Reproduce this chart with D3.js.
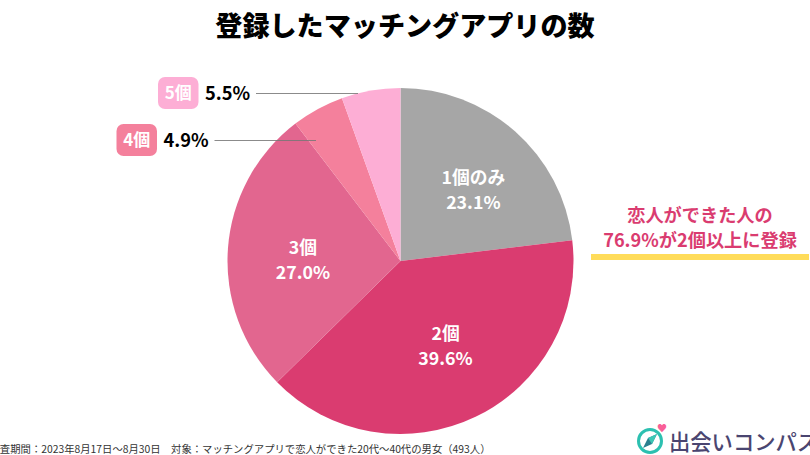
<!DOCTYPE html>
<html lang="ja">
<head>
<meta charset="utf-8">
<script src="https://cdn.jsdelivr.net/npm/d3@7"></script>
<style>
  html, body { margin: 0; padding: 0; background: #fff; overflow: hidden; }
  text { font-family: "Noto Sans CJK JP", "Noto Sans", sans-serif; }
</style>
</head>
<body>
<script>
// Chart data
var categories = ["1個のみ", "2個", "3個", "4個", "5個"];
var percents = [23.1, 39.6, 27.0, 4.9, 5.5];
var colors = ["#a6a6a6", "#da3c70", "#e2668f", "#f4809c", "#fdaed5"];
var titleText = "登録したマッチングアプリの数";
var noteLines = ["恋人ができた人の", "76.9%が2個以上に登録"];
var footText = "調査期間：2023年8月17日～8月30日　対象：マッチングアプリで恋人ができた20代～40代の男女（493人）";
var logoText = "出会いコンパス";

var svgWidth = 810;
var svgHeight = 455;
var radius = 173;

var svg = d3.select("body")
  .append("svg")
  .attr("width", svgWidth)
  .attr("height", svgHeight)
  .style("display", "block");

// Title
svg.append("text")
  .attr("x", 405)
  .attr("y", 35.5)
  .attr("text-anchor", "middle")
  .attr("font-size", 27.1)
  .attr("font-weight", 900)
  .attr("fill", "#000")
  .text(titleText);

// Pie
var pieData = d3.pie().sort(null).value(d => d)(percents);
var arc = d3.arc().innerRadius(0).outerRadius(radius);
var labelArc = d3.arc().innerRadius(radius * 0.6).outerRadius(radius * 0.6);

var pieGroup = svg.append("g")
  .attr("transform", "translate(400.5, 261)");

pieGroup.selectAll("path")
  .data(pieData)
  .enter()
  .append("path")
  .attr("d", arc)
  .attr("fill", (d, i) => colors[i]);

// Labels inside the three big slices, nudged off the centroid
var labelNudge = [[4, 6], [0, -10], [6, 5]];

pieData.slice(0, 3).forEach(function (d, i) {
  var c = labelArc.centroid(d);
  var cx = c[0] + labelNudge[i][0];
  var cy = c[1] + labelNudge[i][1];
  var label = pieGroup.append("text")
    .attr("text-anchor", "middle")
    .attr("fill", "#fff")
    .attr("font-size", 17.8)
    .attr("font-weight", 700);
  label.append("tspan").attr("x", cx).attr("y", cy - 5).text(categories[i]);
  label.append("tspan").attr("x", cx).attr("y", cy + 20).text(percents[i].toFixed(1) + "%");
});

// Outside labels for the two small slices
var outside = [
  { index: 4, boxX: 158, boxY: 77, lineY: 93.5, lineEnd: 358 },
  { index: 3, boxX: 116.5, boxY: 124, lineY: 140.5, lineEnd: 316 }
];

outside.forEach(function (o) {
  svg.append("rect")
    .attr("x", o.boxX)
    .attr("y", o.boxY)
    .attr("width", 40.5)
    .attr("height", 32)
    .attr("rx", 7)
    .attr("fill", colors[o.index]);
  svg.append("text")
    .attr("x", o.boxX + 20.2)
    .attr("y", o.boxY + 22)
    .attr("text-anchor", "middle")
    .attr("fill", "#fff")
    .attr("font-size", 17)
    .attr("font-weight", 700)
    .text(categories[o.index]);
  svg.append("text")
    .attr("x", o.boxX + 47)
    .attr("y", o.boxY + 22.5)
    .attr("fill", "#000")
    .attr("font-size", 18.3)
    .attr("font-weight", 700)
    .text(percents[o.index].toFixed(1) + "%");
  svg.append("line")
    .attr("x1", o.boxX + 98)
    .attr("x2", o.lineEnd)
    .attr("y1", o.lineY)
    .attr("y2", o.lineY)
    .attr("stroke", "#777")
    .attr("stroke-opacity", 0.85)
    .attr("stroke-width", 1);
});

// Note on the right
noteLines.forEach(function (t, i) {
  svg.append("text")
    .attr("x", 700)
    .attr("y", 222 + i * 25)
    .attr("text-anchor", "middle")
    .attr("fill", "#da3c70")
    .attr("font-size", 18.2)
    .attr("font-weight", 700)
    .text(t);
});
svg.append("rect")
  .attr("x", 591)
  .attr("y", 254)
  .attr("width", 218)
  .attr("height", 6)
  .attr("fill", "#ffdc5a");

// Footnote, cut off by the left edge like the reference
svg.append("text")
  .attr("x", -10.5)
  .attr("y", 453)
  .attr("fill", "#333")
  .attr("font-size", 10.35)
  .text(footText);

// Logo
var logo = svg.append("g").attr("transform", "translate(650, 441)");
logo.append("circle")
  .attr("r", 11.5)
  .attr("fill", "none")
  .attr("stroke", "#2cc0b0")
  .attr("stroke-width", 3);
logo.append("path")
  .attr("d", "M7,-7 L2,3 L-7,7 L-2,-3 Z")
  .attr("fill", "#2a7f8f");
logo.append("path")
  .attr("d", "M7,-7 L-2,-3 L2,3 Z")
  .attr("fill", "#3cc7b5");
logo.append("text")
  .attr("x", 12)
  .attr("y", -9)
  .attr("text-anchor", "middle")
  .attr("fill", "#f95f97")
  .attr("font-size", 10)
  .text("♥");
svg.append("text")
  .attr("x", 669)
  .attr("y", 450)
  .attr("fill", "#4a4570")
  .attr("font-size", 21.3)
  .attr("font-weight", 500)
  .text(logoText);
</script>
</body>
</html>
